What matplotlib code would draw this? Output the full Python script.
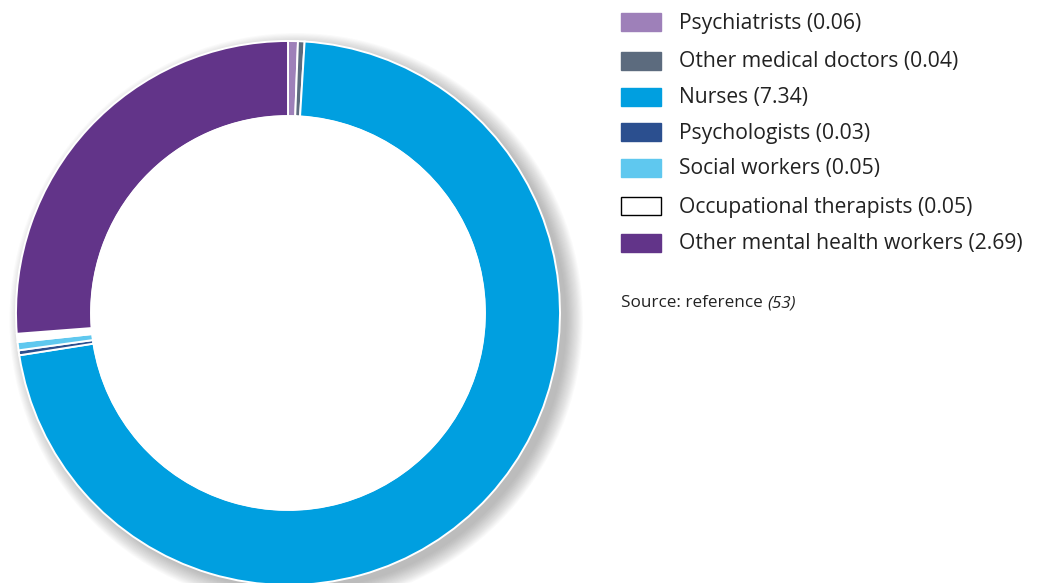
import matplotlib.pyplot as plt
from matplotlib.patches import Circle, Rectangle

labels = ['Psychiatrists', 'Other medical doctors', 'Nurses', 'Psychologists',
          'Social workers', 'Occupational therapists', 'Other mental health workers']
values = [0.06, 0.04, 7.34, 0.03, 0.05, 0.05, 2.69]
colors = ['#9e80b9', '#5c6b7e', '#009fe0', '#2b4f8f', '#5fc8ef', '#ffffff', '#623489']

plt.rcParams['font.family'] = ['Open Sans', 'DejaVu Sans']

fig = plt.figure(figsize=(10.38, 5.83), dpi=100)

# donut axes: centre at (288, 312) px, outer radius 272 px
R = 272
lim = 1.12
size = 2 * R * lim
cx, cy = 288, 583 - 313
ax = fig.add_axes([(cx - size / 2) / 1038, (cy - size / 2) / 583, size / 1038, size / 583])
ax.axis('off')

# soft shadow, mostly to the lower right
for i in range(16):
    r = 0.99 + 0.004 * (i + 1)
    ax.add_patch(Circle((0.03, -0.025), r, color='#666666', alpha=0.03, lw=0, zorder=0))

ax.pie(values, colors=colors, startangle=90, counterclock=False, radius=1.0,
       wedgeprops=dict(width=0.276, edgecolor='white', linewidth=1.4))
ax.add_patch(Circle((0, 0), 0.724, color='white', zorder=5))
ax.set_aspect('equal')
ax.set_xlim(-lim, lim)
ax.set_ylim(-lim, lim)

# legend
row_y = [22, 61, 97, 132, 168, 206, 243]
for lab, v, c, y in zip(labels, values, colors, row_y):
    edge = 'black' if c == '#ffffff' else c
    fig.add_artist(Rectangle((621 / 1038, (583 - y - 9) / 583), 40 / 1038, 18 / 583,
                             facecolor=c, edgecolor=edge, lw=1.0, transform=fig.transFigure))
    fig.text(679 / 1038, (583 - y - 1) / 583, f'{lab} ({v:.2f})', fontsize=15.25,
             color='#222222', va='center', ha='left')

t = fig.text(621 / 1038, (583 - 303) / 583, 'Source: reference ', fontsize=12.3,
             color='#222222', va='center', ha='left')
fig.canvas.draw()
bb = t.get_window_extent()
fig.text(bb.x1 / 1038, (583 - 303) / 583, '(53)', fontsize=12.3, style='italic',
         color='#222222', va='center', ha='left')

fig.savefig('out.png', dpi=100)
